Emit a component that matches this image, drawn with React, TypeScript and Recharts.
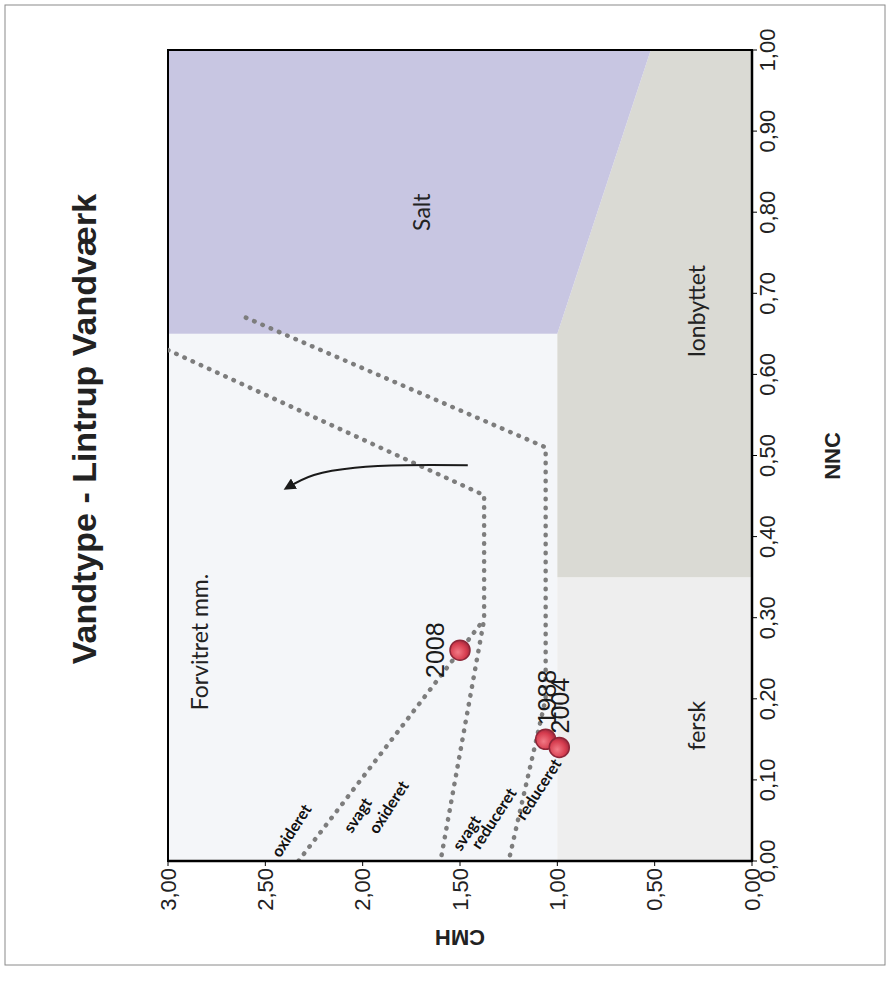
import React from 'react';
import {
  ComposedChart,
  Area,
  Line,
  Scatter,
  XAxis,
  YAxis,
  ReferenceArea,
} from 'recharts';

// The chart is drawn upright (NNC along x, CMH along y) and then turned a
// quarter to the left, like the scanned original.

const nncTicks = [0, 0.1, 0.2, 0.3, 0.4, 0.5, 0.6, 0.7, 0.8, 0.9, 1.0];
const cmhTicks = [0, 0.5, 1.0, 1.5, 2.0, 2.5, 3.0];

const samples = [
  { x: 0.26, y: 1.5, year: '2008' },
  { x: 0.15, y: 1.06, year: '1988' },
  { x: 0.14, y: 0.99, year: '2004' },
];

// zones: CMH band [low, high] at each NNC
const forvitretZone = [
  { x: 0, band: [1, 3] },
  { x: 0.65, band: [1, 3] },
];
const ferskZone = [
  { x: 0, band: [0, 1] },
  { x: 0.35, band: [0, 1] },
];
const ionbyttetZone = [
  { x: 0.35, band: [0, 1] },
  { x: 0.65, band: [0, 1] },
  { x: 1, band: [0, 0.52] },
];
const saltZone = [
  { x: 0.65, band: [1, 3] },
  { x: 1, band: [0.52, 3] },
];

// dotted redox boundaries
const oxideretLine = [
  { x: 0, y: 2.33 },
  { x: 0.298, y: 1.376 },
];
const svagtOxideretLine = [
  { x: 0.63, y: 3.0 },
  { x: 0.451, y: 1.376 },
  { x: 0.298, y: 1.376 },
  { x: 0, y: 1.6 },
];
const reduceretLine = [
  { x: 0.67, y: 2.6 },
  { x: 0.51, y: 1.06 },
  { x: 0.2, y: 1.06 },
  { x: 0, y: 1.25 },
];

const arrowPath = [
  { x: 0.488, y: 1.46 },
  { x: 0.488, y: 1.78 },
  { x: 0.485, y: 2.04 },
  { x: 0.476, y: 2.25 },
  { x: 0.46, y: 2.39 },
];

const zoneLabels = [
  { x: 0.8, y: 1.7, text: 'Salt' },
  { x: 0.678, y: 0.29, text: 'Ionbyttet' },
  { x: 0.167, y: 0.29, text: 'fersk' },
  { x: 0.27, y: 2.84, text: 'Forvitret mm.' },
];

const redoxLabels = [
  { x: 0.038, y: 2.37, text: 'oxideret' },
  { x: 0.057, y: 2.03, text: 'svagt' },
  { x: 0.067, y: 1.87, text: 'oxideret' },
  { x: 0.035, y: 1.47, text: 'svagt' },
  { x: 0.053, y: 1.33, text: 'reduceret' },
  { x: 0.089, y: 1.1, text: 'reduceret' },
];

const W = 989;
const H = 891;

const fmt = (v: number) => v.toFixed(2).replace('.', ',');
const tickFont = { fill: '#222', fontSize: 22, fontFamily: 'Liberation Sans, Arial, sans-serif' };

function ZoneText(props: any) {
  const { cx, cy, payload } = props;
  return (
    <text
      x={cx}
      y={cy}
      textAnchor="middle"
      dominantBaseline="central"
      fontFamily="Lato, 'Open Sans', sans-serif"
      fontSize={23}
      fill="#222"
    >
      {payload.text}
    </text>
  );
}

function RedoxText(props: any) {
  const { cx, cy, payload } = props;
  return (
    <text
      x={cx}
      y={cy}
      transform={`rotate(33 ${cx} ${cy})`}
      textAnchor="middle"
      dominantBaseline="central"
      fontFamily="Lato, 'Open Sans', sans-serif"
      fontWeight="bold"
      fontSize={16}
      fill="#111"
    >
      {payload.text}
    </text>
  );
}

function SamplePoint(props: any) {
  const { cx, cy, payload } = props;
  const above = payload.year === '2008';
  return (
    <g>
      <circle cx={cx} cy={cy} r={10} fill="url(#ball)" stroke="#8e2638" strokeWidth={1.5} />
      <text
        x={above ? cx : cx + 14}
        y={above ? cy - 16 : cy + 1}
        textAnchor={above ? 'middle' : 'start'}
        dominantBaseline={above ? 'auto' : 'central'}
        fontFamily="Liberation Sans, Arial, sans-serif"
        fontSize={25}
        fill="#1a1a1a"
      >
        {payload.year}
      </text>
    </g>
  );
}

export default function App() {
  const dotted = {
    stroke: '#7d7d7d',
    strokeWidth: 4.5,
    strokeDasharray: '0.5 8.5',
    strokeLinecap: 'round' as const,
    dot: false,
    activeDot: false,
    isAnimationActive: false,
    type: 'linear' as const,
  };

  return (
    <div style={{ position: 'absolute', left: 0, top: 0, width: 891, height: 989, overflow: 'hidden', background: '#fff' }}>
      <div
        style={{
          position: 'absolute',
          left: 0,
          top: 0,
          width: W,
          height: H,
          transformOrigin: '0 0',
          transform: `translate(0px, ${W}px) rotate(-90deg)`,
        }}
      >
        <ComposedChart width={W} height={H} margin={{ top: 168, right: 50, bottom: 79, left: 48 }}>
          <defs>
            <radialGradient id="ball" cx="40%" cy="40%" r="60%">
              <stop offset="0%" stopColor="#f27a86" />
              <stop offset="70%" stopColor="#d63c4e" />
              <stop offset="100%" stopColor="#a82c40" />
            </radialGradient>
            <marker id="arrowHead" viewBox="0 0 10 10" refX="7" refY="5" markerWidth="6" markerHeight="6" orient="auto">
              <path d="M0,0 L10,5 L0,10 z" fill="#1a1a1a" />
            </marker>
          </defs>
          <XAxis
            type="number"
            dataKey="x"
            domain={[0, 1]}
            ticks={nncTicks}
            interval={0}
            tickFormatter={fmt}
            tick={tickFont}
            tickSize={5}
            tickLine={{ stroke: '#000' }}
            axisLine={{ stroke: '#000', strokeWidth: 2.5 }}
            height={60}
            allowDataOverflow
          />
          <YAxis
            type="number"
            domain={[0, 3]}
            ticks={cmhTicks}
            interval={0}
            tickFormatter={fmt}
            tick={tickFont}
            tickSize={5}
            tickLine={{ stroke: '#000' }}
            axisLine={{ stroke: '#000', strokeWidth: 2.5 }}
            width={80}
            allowDataOverflow
          />
          <Area data={forvitretZone} dataKey="band" type="linear" stroke="none" fill="#f4f6f9" fillOpacity={1} isAnimationActive={false} />
          <Area data={ferskZone} dataKey="band" type="linear" stroke="none" fill="#eeeeee" fillOpacity={1} isAnimationActive={false} />
          <Area data={ionbyttetZone} dataKey="band" type="linear" stroke="none" fill="#dadad4" fillOpacity={1} isAnimationActive={false} />
          <Area data={saltZone} dataKey="band" type="linear" stroke="none" fill="#c8c6e2" fillOpacity={1} isAnimationActive={false} />
          <ReferenceArea x1={0} x2={1} y1={0} y2={3} fill="none" stroke="#000" strokeWidth={2} />
          <Line data={oxideretLine} dataKey="y" {...dotted} />
          <Line data={svagtOxideretLine} dataKey="y" {...dotted} />
          <Line data={reduceretLine} dataKey="y" {...dotted} />
          <Line
            data={arrowPath}
            dataKey="y"
            type="natural"
            stroke="#1a1a1a"
            strokeWidth={2}
            dot={false}
            activeDot={false}
            markerEnd="url(#arrowHead)"
            isAnimationActive={false}
          />
          <Scatter data={zoneLabels} dataKey="y" shape={ZoneText} isAnimationActive={false} />
          <Scatter data={redoxLabels} dataKey="y" shape={RedoxText} isAnimationActive={false} />
          <Scatter data={samples} dataKey="y" shape={SamplePoint} isAnimationActive={false} />
        </ComposedChart>
        <svg width={W} height={H} style={{ position: 'absolute', left: 0, top: 0, pointerEvents: 'none' }}>
          <rect x={24} y={5} width={960} height={880} fill="none" stroke="#8a8a8a" strokeWidth={1} />
          <text
            x={560}
            y={96}
            textAnchor="middle"
            fontFamily="Liberation Sans, Arial, sans-serif"
            fontWeight="bold"
            fontSize={34}
            fill="#222"
          >
            Vandtype - Lintrup Vandværk
          </text>
          <text
            x={533}
            y={840}
            textAnchor="middle"
            fontFamily="Liberation Sans, Arial, sans-serif"
            fontWeight="bold"
            fontSize={22}
            fill="#222"
          >
            NNC
          </text>
          <text
            x={52}
            y={460}
            transform="rotate(-90 52 460)"
            textAnchor="middle"
            dominantBaseline="central"
            fontFamily="Liberation Sans, Arial, sans-serif"
            fontWeight="bold"
            fontSize={22}
            fill="#222"
          >
            CMH
          </text>
        </svg>
      </div>
    </div>
  );
}
